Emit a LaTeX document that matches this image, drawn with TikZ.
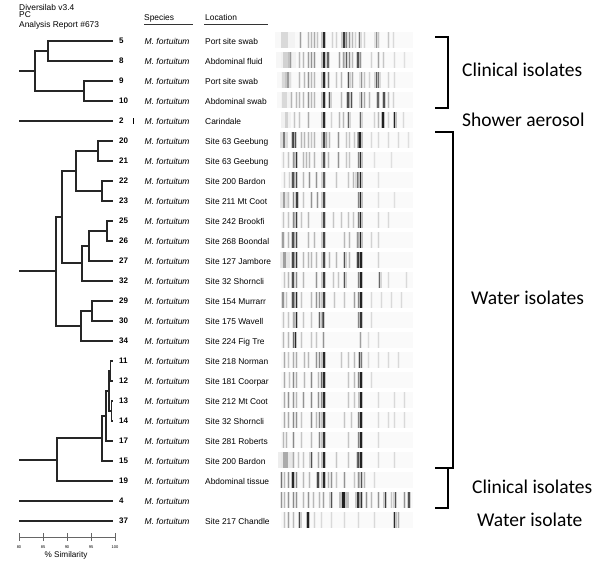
\documentclass[tikz,border=0pt]{standalone}
\usepackage{fontspec}
\setmainfont{Liberation Sans}
\newfontfamily\calib{Carlito}
\tikzset{
  dend/.style={line width=1.2pt, black!85},
  num/.style={anchor=base west, inner sep=0pt, font=\fontsize{8}{9}\selectfont\bfseries},
  spec/.style={anchor=base west, inner sep=0pt, font=\fontsize{8.5}{10}\selectfont\itshape},
  locn/.style={anchor=base west, inner sep=0pt, font=\fontsize{8.4}{10}\selectfont},
  hdr/.style={anchor=base west, inner sep=0pt, font=\fontsize{8.4}{10}\selectfont},
  grp/.style={anchor=west, inner sep=0pt, font=\calib\fontsize{19.5}{22}\selectfont},
  brk/.style={line width=1.4pt, black},
  axisln/.style={line width=0.9pt, black!60},
}
\newcommand\lanebands[2]{%
  \pgfmathsetmacro\ly{41+20*#1}%
  \fill[black,fill opacity=0.02] (281,\ly-9.5) rectangle (413,\ly+7);
  \foreach \x/\d/\w in {#2}{%
    \pgfmathsetmacro\oa{\d/420}%
    \pgfmathsetmacro\ob{\d/115}%
    \fill[black,fill opacity=\oa] ({278+\x/3-\w/2},\ly-9.5) rectangle ({278+\x/3+\w/2},\ly+7);
    \fill[black,fill opacity=\ob] ({278+\x/3-\w/6},\ly-9.5) rectangle ({278+\x/3+\w/6},\ly+7);
  }%
}
\begin{document}
\begin{tikzpicture}[x=1pt,y=-1pt]
\useasboundingbox (0,0) rectangle (600,579);
% header
\node[hdr] (h1) at (19,10.5) {Diversilab v3.4};
\node[hdr] (h2) at (19,17.8) {PC};
\node[hdr] (h3) at (19,27.5) {Analysis Report \#673};
\node[hdr] (hs) at (144,20.5) {Species};
\node[hdr] (hl) at (205,20.5) {Location};
\draw[line width=0.8pt, black!80] (144,24) -- (193,24);
\draw[line width=0.8pt, black!80] (204,24) -- (268,24);
% rows
\foreach \n/\loc [count=\i from 0] in {5/Port site swab, 8/Abdominal fluid, 9/Port site swab, 10/Abdominal swab, 2/Carindale, 20/Site 63 Geebung, 21/Site 63 Geebung, 22/Site 200 Bardon, 23/Site 211 Mt Coot, 25/Site 242 Brookfi, 26/Site 268 Boondal, 27/Site 127 Jambore, 32/Site 32 Shorncli, 29/Site 154 Murrarr, 30/Site 175 Wavell, 34/Site 224 Fig Tre, 11/Site 218 Norman, 12/Site 181 Coorpar, 13/Site 212 Mt Coot, 14/Site 32 Shorncli, 17/Site 281 Roberts, 15/Site 200 Bardon, 19/Abdominal tissue, 4/{}, 37/Site 217 Chandle}{
  \pgfmathsetmacro\ry{41+20*\i}
  \coordinate (L\n) at (113,\ry);
  \node[num] (N\n) at (119,\ry+2.9) {\n};
  \node[spec] (S\n) at (144.5,\ry+3) {M. fortuitum};
  \node[locn] (P\n) at (205,\ry+3) {\loc};
}
\draw[line width=0.6pt] (133,118) -- (133,124);
% dendrogram: clinical
\coordinate (a58) at (48,51);
\coordinate (a910) at (84,91);
\coordinate (aR) at (35,71);
\coordinate (a0) at (19,71);
\draw[dend] (a58) |- (L5) (a58) |- (L8);
\draw[dend] (a910) |- (L9) (a910) |- (L10);
\draw[dend] (aR) |- (a58) (aR) |- (a910);
\draw[dend] (a0) -- (aR);
\coordinate (r2) at (19,121);
\draw[dend] (r2) -- (L2);
% water cluster
\coordinate (b2021) at (98,151);
\coordinate (b2223) at (102,191);
\coordinate (bA) at (76,171);
\coordinate (b2526) at (107,231);
\coordinate (b27) at (89,246);
\coordinate (b32) at (82,263);
\coordinate (bB) at (62,217);
\coordinate (b2930) at (92,311);
\coordinate (b34) at (81,326);
\coordinate (bR) at (56,271);
\coordinate (b0) at (19,271);
\draw[dend] (b2021) |- (L20) (b2021) |- (L21);
\draw[dend] (b2223) |- (L22) (b2223) |- (L23);
\draw[dend] (bA) |- (b2021) (bA) |- (b2223);
\draw[dend] (b2526) |- (L25) (b2526) |- (L26);
\draw[dend] (b27) |- (b2526) (b27) |- (L27);
\draw[dend] (b32) |- (b27) (b32) |- (L32);
\draw[dend] (bB) |- (bA) (bB) |- (b32);
\draw[dend] (b2930) |- (L29) (b2930) |- (L30);
\draw[dend] (b34) |- (b2930) (b34) |- (L34);
\draw[dend] (bR) |- (bB) (bR) |- (b34);
\draw[dend] (b0) -- (bR);
% lower cluster
\coordinate (c1112) at (110.5,371);
\coordinate (c1314) at (111.5,411);
\coordinate (c1114) at (109,391);
\coordinate (c17) at (106,416);
\coordinate (c15) at (102,438);
\coordinate (c19) at (57,460);
\coordinate (c0) at (19,460);
\draw[dend] (c1112) |- (L11) (c1112) |- (L12);
\draw[dend] (c1314) |- (L13) (c1314) |- (L14);
\draw[dend] (c1114) |- (c1112) (c1114) |- (c1314);
\draw[dend] (c17) |- (c1114) (c17) |- (L17);
\draw[dend] (c15) |- (c17) (c15) |- (L15);
\draw[dend] (c19) |- (c15) (c19) |- (L19);
\draw[dend] (c0) -- (c19);
\coordinate (r4) at (19,501);
\coordinate (r37) at (19,521);
\draw[dend] (r4) -- (L4);
\draw[dend] (r37) -- (L37);
% axis
\draw[axisln] (19,537) -- (115,537);
\foreach \v [count=\k from 0] in {80,85,90,95,100}{
  \draw[axisln] (19+24*\k,533) -- (19+24*\k,541);
  \node[inner sep=0pt, font=\fontsize{4}{5}\selectfont] (t\v) at (19+24*\k,547) {\v};
}
\node[inner sep=0pt, font=\fontsize{8.2}{10}\selectfont] (sim) at (66,555) {\% Similarity};
% gel lanes
\lanebands{0}{20/12/20, 67/35/3, 90/25/3, 100/25/3, 110/30/3, 118/20/3, 137/90/5, 163/15/3, 175/15/3, 197/80/5, 205/45/3, 213/40/3, 222/25/3, 233/15/3, 245/55/4, 258/15/3, 295/40/4, 302/20/3, 330/20/3, 345/12/3}
\lanebands{1}{25/15/20, 37/35/4, 65/25/3, 75/25/3, 90/35/3, 100/40/3, 110/40/3, 137/90/5, 150/60/4, 185/35/3, 195/35/3, 205/65/4, 213/45/3, 222/25/3, 240/70/4, 247/40/3, 280/15/3, 300/35/3, 315/20/3, 350/12/3, 380/10/3}
\lanebands{2}{20/12/15, 30/35/6, 65/25/3, 78/25/3, 90/40/3, 100/25/3, 110/25/3, 137/90/5, 152/50/3, 175/20/3, 190/25/3, 212/70/4, 222/30/3, 250/40/4, 258/20/3, 275/15/3, 295/65/4, 302/55/4, 330/15/3, 350/12/3}
\lanebands{3}{20/12/15, 40/25/3, 55/25/3, 65/25/3, 75/25/3, 90/40/3, 100/25/3, 110/25/3, 137/90/5, 155/70/4, 190/25/3, 210/70/4, 220/70/4, 250/60/4, 258/30/3, 275/25/3, 300/60/4, 318/70/4, 330/25/3, 345/15/3}
\lanebands{4}{25/15/10, 48/20/3, 65/20/3, 90/30/3, 137/90/5, 160/15/3, 185/25/3, 195/25/3, 212/60/4, 248/60/4, 290/15/3, 300/25/3, 315/95/4, 330/15/3, 350/95/4, 375/12/3}
\lanebands{5}{18/50/8, 45/70/4, 52/70/4, 70/25/3, 80/25/3, 90/25/3, 100/20/3, 110/25/3, 137/75/5, 145/30/3, 155/25/3, 180/40/3, 205/20/3, 215/20/3, 228/20/3, 240/40/3, 247/95/6, 280/12/3, 300/12/3, 330/12/3, 360/12/3, 390/10/3}
\lanebands{6}{15/15/3, 30/20/3, 47/40/3, 55/85/4, 75/25/3, 85/25/3, 95/25/3, 110/25/3, 137/70/5, 150/25/3, 180/40/3, 205/20/3, 215/20/3, 240/30/3, 247/90/5, 290/10/3, 340/10/3}
\lanebands{7}{20/15/3, 35/15/3, 45/70/4, 55/75/4, 75/25/3, 95/40/3, 115/40/3, 137/65/5, 175/20/3, 210/20/3, 225/25/3, 238/55/4, 247/95/5, 300/10/3}
\lanebands{8}{18/35/8, 30/20/3, 47/45/3, 57/80/4, 75/20/3, 100/40/3, 118/40/3, 137/75/5, 240/30/3, 247/95/5, 300/10/3, 350/10/3}
\lanebands{9}{15/20/3, 30/20/3, 45/45/3, 55/80/4, 70/20/3, 90/25/3, 137/75/5, 165/20/3, 190/20/3, 210/20/3, 225/20/3, 240/35/3, 247/95/5, 300/15/3, 330/12/3}
\lanebands{10}{15/35/4, 30/25/3, 45/70/4, 55/75/4, 90/25/3, 110/25/3, 137/75/5, 200/25/3, 215/25/3, 237/40/3, 247/95/5, 280/15/3, 300/15/3}
\lanebands{11}{20/35/10, 45/75/4, 55/85/4, 75/25/3, 90/25/3, 100/25/3, 115/25/3, 137/75/5, 155/25/3, 175/25/3, 200/70/4, 215/25/3, 240/75/4, 248/95/5, 300/15/3}
\lanebands{12}{20/20/3, 30/25/3, 45/70/4, 55/45/3, 75/25/3, 115/40/3, 137/80/5, 165/20/3, 180/20/3, 200/70/4, 240/30/3, 248/95/5, 305/60/4, 330/12/3, 385/12/3}
\lanebands{13}{15/40/4, 25/20/3, 45/70/4, 55/90/4, 70/20/3, 100/25/3, 115/40/3, 125/40/3, 137/80/5, 170/20/3, 200/20/3, 230/35/3, 240/30/3, 248/95/5, 280/12/3, 310/12/3, 340/12/3, 370/12/3}
\lanebands{14}{15/20/3, 30/20/3, 45/30/3, 55/90/4, 75/20/3, 100/20/3, 125/60/4, 133/40/3, 137/75/3, 240/30/3, 248/85/5, 280/12/3}
\lanebands{15}{15/25/3, 30/25/3, 45/45/3, 52/90/4, 70/20/3, 100/20/3, 115/20/3, 135/40/3, 248/35/3, 270/12/3, 300/12/3}
\lanebands{16}{20/30/3, 30/20/3, 45/30/3, 55/30/3, 80/25/3, 90/25/3, 115/40/3, 125/45/3, 137/90/5, 190/20/3, 210/20/3, 230/25/3, 245/75/4, 250/40/3, 270/12/3, 300/12/3, 330/12/3, 360/12/3}
\lanebands{17}{20/30/3, 35/20/3, 45/45/3, 55/30/3, 80/25/3, 100/45/3, 120/25/3, 130/45/3, 137/90/5, 210/20/3, 230/25/3, 240/30/3, 248/95/5, 280/12/3}
\lanebands{18}{20/30/3, 30/40/3, 45/40/3, 55/25/3, 75/40/3, 100/45/3, 120/40/3, 130/25/3, 137/90/5, 210/20/3, 230/20/3, 248/95/5, 300/12/3, 350/12/3, 380/12/3}
\lanebands{19}{20/30/3, 30/30/3, 45/45/3, 55/40/3, 70/20/3, 100/45/3, 115/25/3, 125/45/3, 137/85/5, 200/20/3, 220/20/3, 240/30/3, 248/95/5, 300/12/3, 330/12/3, 350/12/3, 380/12/3}
\lanebands{20}{15/25/3, 25/25/3, 45/45/3, 70/20/3, 100/25/3, 125/45/3, 137/85/5, 210/20/3, 240/30/3, 248/95/5, 300/12/3}
\lanebands{21}{22/30/15, 45/30/3, 60/20/3, 75/20/3, 100/70/4, 120/30/3, 137/90/5, 175/20/3, 210/20/3, 240/60/4, 248/95/5, 300/12/3, 350/12/3}
\lanebands{22}{10/55/3, 20/25/3, 30/40/3, 45/90/4, 55/45/3, 75/25/3, 95/25/3, 120/75/4, 137/90/5, 150/25/3, 160/40/3, 175/20/3, 200/40/3, 230/20/3, 240/40/3, 250/70/4, 260/25/3, 290/12/3}
\lanebands{23}{10/40/3, 20/25/3, 30/40/3, 45/45/3, 55/40/3, 75/25/3, 90/40/3, 105/25/3, 125/25/3, 135/35/3, 160/70/4, 197/95/10, 240/85/7, 250/80/4, 265/40/3, 280/25/3, 300/40/3, 322/80/4, 340/20/3, 352/70/4, 380/40/3, 393/70/4}
\lanebands{24}{20/20/3, 30/35/3, 45/25/3, 65/75/4, 90/95/4, 110/15/3, 130/12/3, 160/12/3, 200/12/3, 240/12/3, 290/12/3, 350/90/4, 360/30/3}
% brackets
\draw[brk] (435,37) -- (448,37) -- (448,108) -- (435,108);
\draw[brk] (435,132) -- (453,132) -- (453,468) -- (435,468);
\draw[brk] (448,468) -- (448,508) -- (435,508);
% group labels
\node[grp] (g1) at (462,70) {Clinical isolates};
\node[grp] (g2) at (462,120) {Shower aerosol};
\node[grp] (g3) at (471,298) {Water isolates};
\node[grp] (g4) at (472,487) {Clinical isolates};
\node[grp] (g5) at (477,520) {Water isolate};
\end{tikzpicture}
\end{document}
